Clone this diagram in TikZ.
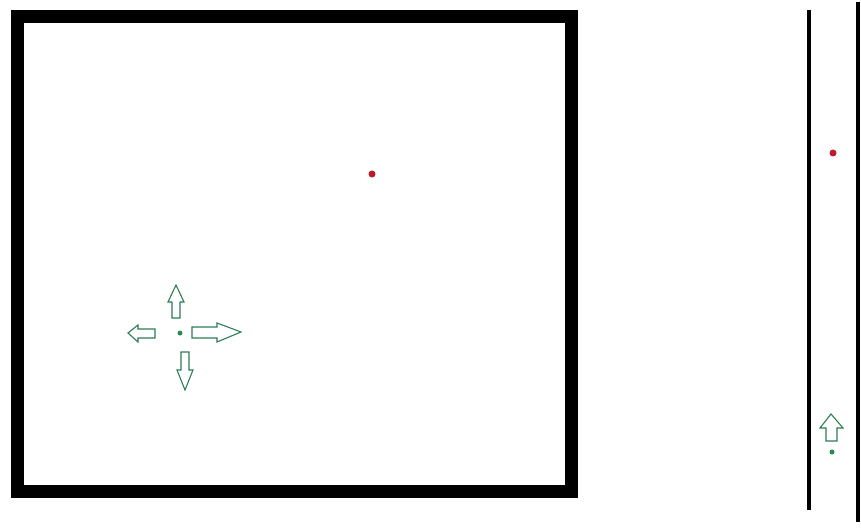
\documentclass[tikz,border=0pt]{standalone}
\definecolor{arrowgreen}{RGB}{45,125,85}
\definecolor{dotgreen}{RGB}{40,140,80}
\definecolor{dotred}{RGB}{190,25,45}
\begin{document}
\begin{tikzpicture}[x=1pt,y=-1pt,
  wall/.style={line width=13.5pt, draw=black},
  thinwall/.style={line width=3.8pt, draw=black},
  arrowshape/.style={draw=arrowgreen, line width=1.1pt, fill=white, line join=miter},
  reddot/.style={circle, fill=dotred, inner sep=0pt, minimum size=7pt},
  greendot/.style={circle, fill=dotgreen, inner sep=0pt, minimum size=5pt}]
\useasboundingbox (0,0) rectangle (861,529);
% main room
\draw[wall] (17.5,16.5) rectangle (571.5,491.5);
% side walls
\draw[thinwall] (809,10) -- (809,510);
\draw[thinwall] (858,2) -- (858,522);
% red dots
\node[reddot] (r1) at (372,174) {};
\node[reddot] (r2) at (833,153) {};
% green dots
\node[greendot] (g1) at (180,333) {};
\node[greendot] (g2) at (832,452) {};
% arrows around g1
\draw[arrowshape] (176,285) -- (184,302) -- (180,302) -- (180,318) -- (172,318) -- (172,302) -- (168,302) -- cycle;
\draw[arrowshape] (128,333) -- (138,325) -- (138,329) -- (155,329) -- (155,338) -- (138,338) -- (138,342) -- cycle;
\draw[arrowshape] (241,332) -- (217,323) -- (217,327) -- (192,327) -- (192,338) -- (217,338) -- (217,342) -- cycle;
\draw[arrowshape] (185,390) -- (193,370) -- (189,370) -- (189,352) -- (181,352) -- (181,370) -- (177,370) -- cycle;
% arrow above g2
\draw[arrowshape] (831,414) -- (843,428) -- (837,428) -- (837,441) -- (826,441) -- (826,428) -- (820,428) -- cycle;
\end{tikzpicture}
\end{document}
